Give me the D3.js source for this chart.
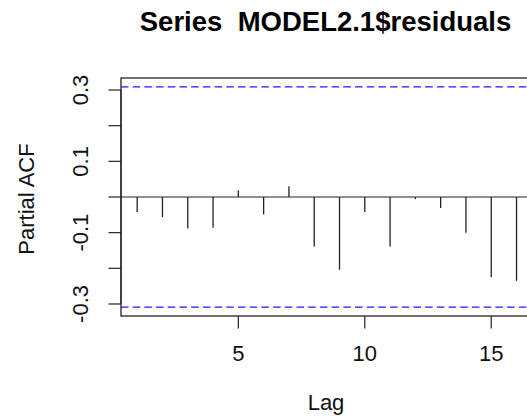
<!DOCTYPE html>
<html>
<head>
<meta charset="utf-8">
<script src="https://cdn.jsdelivr.net/npm/d3@7"></script>
<style>
  body { margin: 0; background: #fff; }
  svg { display: block; font-family: "Liberation Sans", Arial, sans-serif; }
  text { white-space: pre; }
</style>
</head>
<body>
<svg id="chart" width="527" height="416"></svg>
<script>
// partial autocorrelations (lags 1..16, lag 17 sits past the right edge)
var lags = [1, 2, 3, 4, 5, 6, 7, 8, 9, 10, 11, 12, 13, 14, 15, 16];
var pacfValues = [-0.042, -0.056, -0.088, -0.086, 0.019, -0.049, 0.030, -0.139,
                  -0.204, -0.042, -0.139, -0.006, -0.031, -0.100, -0.225, -0.235];
var ciValue = 0.309;           // blue dashed bounds
var maxLag = 17;
var xTicks = [5, 10, 15];
var yTicks = [-0.3, -0.2, -0.1, 0, 0.1, 0.2, 0.3];
var yTickLabels = { "-0.3": "-0.3", "-0.1": "-0.1", "0.1": "0.1", "0.3": "0.3" };

function drawChart() {
    var svg = d3.select("#chart");

    // plot region (R-style 4% padding on both axes)
    var pLeft = 121, pRight = 558, pTop = 78, pBottom = 316;
    var xPad = 0.04 * (maxLag - 1), yPad = 0.04 * 2 * ciValue;

    var x = d3.scaleLinear().domain([1 - xPad, maxLag + xPad]).range([pLeft, pRight]);
    var y = d3.scaleLinear().domain([-ciValue - yPad, ciValue + yPad]).range([pBottom, pTop]);

    // box
    svg.append("rect")
        .attr("x", pLeft).attr("y", pTop)
        .attr("width", pRight - pLeft).attr("height", pBottom - pTop)
        .attr("fill", "none").attr("stroke", "#222").attr("stroke-width", 1.3);

    // y axis ticks
    var yAxis = svg.append("g").attr("stroke", "#222").attr("stroke-width", 1.2);
    yAxis.append("line").attr("x1", pLeft).attr("x2", pLeft)
        .attr("y1", y(yTicks[0])).attr("y2", y(yTicks[yTicks.length - 1]));
    yAxis.selectAll("line.tk").data(yTicks).enter().append("line")
        .attr("class", "tk")
        .attr("x1", pLeft - 12.5).attr("x2", pLeft)
        .attr("y1", d => y(d)).attr("y2", d => y(d));

    svg.selectAll("text.ylab").data(yTicks.filter(d => yTickLabels[String(d)])).enter()
        .append("text").attr("class", "ylab")
        .attr("transform", d => "translate(88," + y(d) + ") rotate(-90)")
        .attr("text-anchor", "middle")
        .attr("font-size", 22).attr("fill", "#111")
        .text(d => yTickLabels[String(d)]);

    // x axis ticks
    var xAxis = svg.append("g").attr("stroke", "#222").attr("stroke-width", 1.2);
    xAxis.selectAll("line").data(xTicks).enter().append("line")
        .attr("x1", d => x(d)).attr("x2", d => x(d))
        .attr("y1", pBottom).attr("y2", pBottom + 12.5);

    svg.selectAll("text.xlab").data(xTicks).enter()
        .append("text").attr("class", "xlab")
        .attr("x", d => x(d)).attr("y", 361)
        .attr("text-anchor", "middle")
        .attr("font-size", 22).attr("fill", "#111")
        .text(d => d);

    // zero line
    svg.append("line")
        .attr("x1", pLeft).attr("x2", pRight)
        .attr("y1", y(0)).attr("y2", y(0))
        .attr("stroke", "#222").attr("stroke-width", 1.2);

    // confidence bounds
    svg.selectAll("line.ci").data([ciValue, -ciValue]).enter().append("line")
        .attr("class", "ci")
        .attr("x1", pLeft).attr("x2", pRight)
        .attr("y1", d => y(d)).attr("y2", d => y(d))
        .attr("stroke", "#1a1aff").attr("stroke-width", 1.2)
        .attr("stroke-dasharray", "7.5,4.2");

    // pacf spikes
    svg.selectAll("line.spike").data(pacfValues).enter().append("line")
        .attr("class", "spike")
        .attr("x1", (d, i) => x(lags[i])).attr("x2", (d, i) => x(lags[i]))
        .attr("y1", y(0)).attr("y2", d => y(d))
        .attr("stroke", "#222").attr("stroke-width", 1.3);

    // titles
    svg.append("text")
        .attr("x", 325.5).attr("y", 31)
        .attr("text-anchor", "middle")
        .attr("font-size", 27.5).attr("font-weight", "bold").attr("fill", "#000")
        .text("Series  MODEL2.1$residuals");

    svg.append("text")
        .attr("x", 326).attr("y", 410)
        .attr("text-anchor", "middle")
        .attr("font-size", 22).attr("fill", "#111")
        .text("Lag");

    svg.append("text")
        .attr("transform", "translate(34,199) rotate(-90)")
        .attr("text-anchor", "middle")
        .attr("font-size", 22).attr("fill", "#111")
        .text("Partial ACF");
}

drawChart();
</script>
</body>
</html>
